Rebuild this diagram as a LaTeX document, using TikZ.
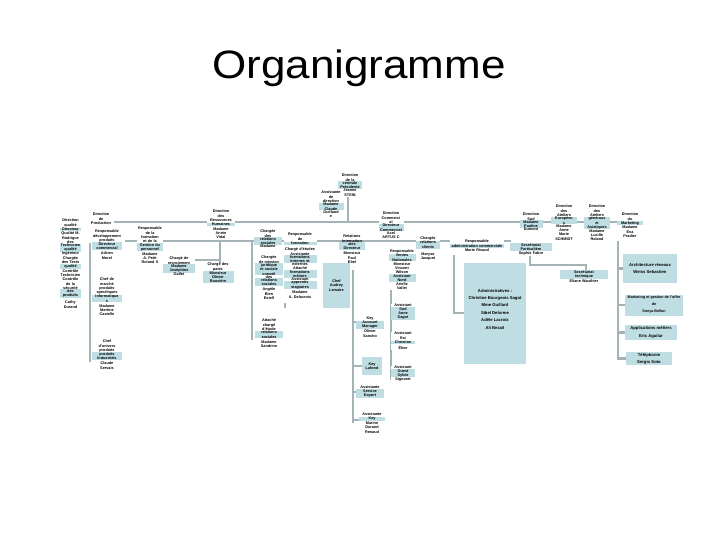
\documentclass[tikz,border=0pt]{standalone}
\usepackage{fontspec}
\setmainfont{Liberation Sans}
\usepackage{graphicx}
\usetikzlibrary{backgrounds}
\definecolor{hlb}{RGB}{191,222,227}
\definecolor{lnkc}{RGB}{164,180,182}
\newcommand{\orgsz}{\fontsize{3.8}{4.3}\selectfont\bfseries\lineskiplimit=0pt\lineskip=0.1pt}
\newcommand{\bigsz}{\fontsize{4.2}{7.4}\selectfont\bfseries}
\newcommand{\hb}[1]{{\fboxsep=0.3pt\colorbox{hlb}{\parbox[c]{\dimexpr\linewidth-0.6pt\relax}{\centering #1}}}}
\tikzset{
  org/.style={inner sep=0pt, fill=white, align=center, text width=#1, font=\orgsz, anchor=north},
  lnk/.style={draw=lnkc, line width=2.7pt},
  bbox/.style={fill=hlb, inner sep=0pt, align=center, font=\bigsz},
  sbox/.style={fill=hlb, inner sep=0pt, align=center, font=\orgsz}
}
\begin{document}
\begin{tikzpicture}[x=1pt,y=-1pt]
\useasboundingbox (0,0) rectangle (720,540);
\node[anchor=base, inner sep=0pt] (title) at (359,79) {\scalebox{1}[0.9]{\fontsize{44}{44}\selectfont Organigramme}};

% top
\node[org=24pt, fill=none] (tn) at (350,174) {Direction\\de la\\\hb{centrale\\Présidente}\\Jeanne\\STEIN};
\node[org=25pt] (as) at (331,191) {Assistante\\de\\direction\\\hb{Madame\\Claude}\\Guillaud\\e};

% left
\node[org=21pt] (q) at (70.5,219) {Direction\\qualité\\\hb{Directeur}\\Qualité M.\\Rodrigue\\des\\\hb{Technicien\\qualité}\\Ingénieur\\Chargée\\des Tests\\\hb{qualité}\\Contrôle\\Technicien\\Contrôle\\de la\\sécurité\\\hb{des\\produits}\\[3pt]Cathy\\Durand};
\node[org=26pt] (p) at (101,213) {Direction\\de\\Production};
\node[org=30pt] (p1) at (107,230) {Responsable\\développement\\produits\\\hb{Directeur\\commercial}\\[2pt]Adrien\\Morel};
\node[org=30pt] (p2) at (107,278) {Chef de\\marché\\produits\\spécifiques\\\hb{Informatique\\s}\\[2pt]Madame\\Martine\\Castelle};
\node[org=30pt] (p3) at (107,340) {Chef\\d'univers\\produits\\\hb{produits\\Industriels}\\[2pt]Claude\\Servais};

% RH
\node[org=28pt] (rh) at (221,210) {Direction\\des\\Ressources\\\hb{Humaines}\\Madame\\Annie\\Vidal};
\node[org=26pt] (rh1) at (150,227) {Responsable\\de la\\formation\\et de la\\\hb{Gestion du\\personnel}\\[1pt]Madame\\A. Petit\\Roland S};
\node[org=32pt] (rh2) at (179,257) {Chargé de\\recrutement\\\hb{Madame\\Joséphine}\\Gallet};
\node[org=31pt] (rh3) at (218,263) {Chargé des\\paies\\\hb{Monsieur\\Olivier\\Rouvière}};
\node[org=28pt] (rh4) at (268,230) {Chargée\\des\\\hb{relations\\sociales}\\Madame};
\node[org=28pt] (rh4a) at (269,256) {Chargée\\de mission\\\hb{juridique\\et sociale\\conseil}\\des\\\hb{relations\\sociales}\\[2pt]Angèle\\Bien\\Estell};
\node[org=28pt] (rh4b) at (269,319) {Attaché\\chargé\\d'étude\\\hb{relations\\sociales}\\[2pt]Madame\\Sandrine};
\node[org=33pt] (rh5) at (300,233) {Responsable\\de\\\hb{formation}\\[2pt]Chargé d'études\\Assistante\\\hb{formations\\internes et}\\externes\\Attaché\\\hb{formations\\métiers}\\Assistant\\\hb{apprentis\\stagiaires}\\[2pt]Madame\\A. Delacroix};
\node[sbox, minimum width=27pt, minimum height=45pt] (ca) at (336.5,285.5) {Chef\\Audrey\\Lemaire};

% relations internationales
\node[org=26pt, fill=none] (ri) at (352,235) {Relations\\Internation\\\hb{ales\\Directeur}\\[2pt]Monsieur\\Paul\\Ebel};
\node[org=28pt] (ri1) at (370,317) {Key\\\hb{Account\\Manager}\\[1pt]Olivier\\Sancho};
\node[sbox, minimum width=20pt, minimum height=18pt] (ri2) at (372,366) {Key\\Lafond};
\node[org=28pt] (ri3) at (370,386) {Assistante\\\hb{Service\\Export}};
\node[org=26pt] (ri4) at (372,413) {Assistante\\\hb{Key}\\Marine\\Durand\\Renaud};

% commercial
\node[org=25pt] (dc) at (391,212) {Direction\\Commerci\\al\\\hb{Directeur\\Commercial}\\Axel\\ARTUS C};
\node[org=27pt] (rv) at (402,250) {Responsable\\\hb{Ventes\\Nationales}\\[1pt]Monsieur\\Vincent\\Wilson\\\hb{Assistant\\Nord}\\[1pt]Arielle\\Vallet};
\node[org=24pt] (cs1) at (403,304) {Assistant\\\hb{Sud\\Anne\\Sagot}};
\node[org=24pt] (cs2) at (403,332) {Assistant\\Est\\\hb{Christine}\\[2pt]Élise};
\node[org=24pt] (cs3) at (403,366) {Assistant\\\hb{Ouest\\Sylvie}\\Signoret};
\node[org=24pt] (cr) at (428,237) {Chargée\\\hb{relations\\clients}\\[4pt]Maryse\\Jacquet};
\node[org=54pt] (ra) at (477,240) {Responsable\\\hb{administration commerciale}\\Marie Rivaud};
\node[fill=hlb, minimum width=62pt, minimum height=101pt, inner sep=0pt] (adm) at (495,313.5) {};
\node[font=\bigsz, align=center, inner sep=0pt] (admt) at (495,309) {Administratives :\\Christine Bourgeois Sagot\\Mme Guillard\\Sibel Delorme\\Adèle Lacroix\\Ali Bezail};

% right
\node[org=23pt] (ds) at (531,213) {Direction\\Sud\\\hb{Madame\\Pauline}\\Dumont};
\node[org=42pt] (sp) at (531,243) {\hb{Secrétariat\\Particulière}\\[1pt]Sophie Fabre};
\node[org=48pt] (st) at (584,270) {\hb{Secrétariat\\technique}\\[1pt]Eliane Wauthier};
\node[org=26pt] (ae) at (564,205) {Direction\\des\\Ateliers\\\hb{Européen\\s}\\Madame\\Anne\\Marie\\SCHMIDT};
\node[org=26pt] (aa) at (597,205) {Direction\\des\\Ateliers\\\hb{généraux\\et\\Asiatiques}\\Madame\\Lucille\\Roland};
\node[org=26pt] (mk) at (630,213) {Direction\\du\\\hb{Marketing}\\Madame\\Eva\\Pradier};
\node[bbox, minimum width=54pt, minimum height=29pt] (m1) at (650,268.5) {Architecture réseaux\\Weiss Sebastien};
\node[bbox, minimum width=58pt, minimum height=21pt, font=\fontsize{3.7}{7}\selectfont\bfseries] (m2) at (654,305) {Marketing et gestion de l'offre\\de\\Sonya Bellon};
\node[bbox, minimum width=52pt, minimum height=15pt, font=\fontsize{4.2}{8}\selectfont\bfseries] (m3) at (651,332.5) {Applications métiers\\Eric Aguilar};
\node[bbox, minimum width=46pt, minimum height=13pt, font=\fontsize{4.2}{7}\selectfont\bfseries] (m4) at (649,358.5) {Téléphonie\\Sergio Soto};

% junction coordinates
\coordinate (mbL) at (113,222);
\coordinate (mbR) at (617,222);
\coordinate (tnj) at (348,197);
\coordinate (tnb) at (348,222);
\coordinate (b2L) at (125,241);
\coordinate (b2R) at (511,241);
\coordinate (rhj) at (220,241);
\coordinate (rhk) at (220,260);
\coordinate (r4t) at (252,241);
\coordinate (r4b) at (252,340);
\coordinate (pt) at (90,243);
\coordinate (pb) at (90,362);
\coordinate (rit) at (353,270);
\coordinate (rib) at (353,423);
\coordinate (cst) at (391,272);
\coordinate (csb) at (391,380);
\coordinate (rat) at (454,255);
\coordinate (rab) at (454,313);
\coordinate (spa) at (530,265);
\coordinate (spb) at (586,265);
\coordinate (mkt) at (618,241);
\coordinate (mkb) at (618,358.5);

\begin{pgfonlayer}{background}
\draw[lnk] (mbL) -- (mbR);
\draw[lnk] (tnj) -- (tnb);
\draw[lnk] (b2L) -- (b2R);
\draw[lnk] (rhj) -- (rh3.north -| rhj);
\draw[lnk] (rh2.east |- rhk) -- (rhk);
\draw[lnk] (r4t) -- (r4b);
\draw[lnk] (pt) -- (pb);
\draw[lnk] (61,246) -- (61,253);
\draw[lnk] (61,291) -- (61,300);
\draw[lnk] (285,258) -- (285,265);
\draw[lnk] (285,284) -- (285,290);
\draw[lnk] (285,303) -- (285,308);
\draw[lnk] (rit) -- (rib);
\draw[lnk] (rit |- 0,322) -- (ri1.west |- 0,322);
\draw[lnk] (rit |- ri2.west) -- (ri2.west);
\draw[lnk] (rit |- 0,392) -- (ri3.west |- 0,392);
\draw[lnk] (rit |- 0,420) -- (ri4.west |- 0,420);
\draw[lnk] (cst) -- (csb);
\draw[lnk] (cst |- 0,274) -- (396,274);
\draw[lnk] (rat) -- (rab) -- (adm.west |- rab);
\draw[lnk] (sp.south -| spa) -- (spa) -- (spb) -- (st.north -| spb);
\draw[lnk] (mkt) -- (mkb) -- (m4.west);
\draw[lnk] (mkt |- m1.west) -- (m1.west);
\draw[lnk] (mkt |- m2.west) -- (m2.west);
\draw[lnk] (mkt |- m3.west) -- (m3.west);
\end{pgfonlayer}
\end{tikzpicture}
\end{document}
